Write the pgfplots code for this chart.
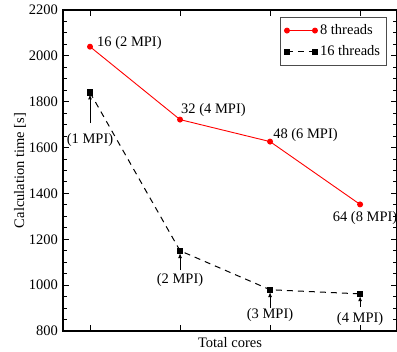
\documentclass[border=0pt]{standalone}
\usepackage{pgfplots}
\pgfplotsset{compat=1.18}
\usepackage{fontspec}
\setmainfont{Liberation Serif}
\usetikzlibrary{arrows.meta}
\begin{document}
\fontsize{14.5bp}{17bp}\selectfont
\begin{tikzpicture}
\begin{axis}[
  scale only axis,
  width=334bp, height=321bp,
  xmin=0.7, xmax=4.41,
  ymin=800, ymax=2200,
  xtick={1,2,3,4}, xticklabels={},
  ytick={800,1000,...,2200},
  minor y tick num=3,
  tick align=inside,
  major tick length=6bp, minor tick length=4bp,
  every tick/.style={black, line width=1bp},
  axis line style={line width=1.3bp},
  /pgf/number format/assume math mode=true,
  /pgf/number format/1000 sep={},
  ylabel={Calculation time [s]},
  xlabel={Total cores},
  xlabel style={at={(axis description cs:0.5,0)}, anchor=north, yshift=-1bp},
  ylabel style={yshift=-7bp},
  clip=false,
  legend cell align=left,
  legend style={at={(rel axis cs:0.97,0.978)}, anchor=north east, draw=black!70, line width=0.8bp, inner xsep=4bp, inner ysep=5bp, row sep=5bp, font=\fontsize{14.5bp}{17bp}\selectfont, nodes={inner xsep=2.5bp}},
  legend image code/.code={\draw[#1, mark repeat=1] plot coordinates {(0bp,0bp) (28bp,0bp)};},
]
\coordinate (sw) at (rel axis cs:0,0);
\coordinate (ne) at (rel axis cs:1,1);
\addplot[red, line width=0.9bp, mark=*, mark size=2.5bp, mark options={solid}] coordinates {(1,2040) (2,1722) (3,1626) (4,1352)};
\addlegendentry{8 threads}
\addplot[black, line width=1bp, dash pattern=on 6bp off 5bp, mark=square*, mark size=2.6bp, mark options={solid}] coordinates {(1,1840) (2,1150) (3,980) (4,962)};
\addlegendentry{16 threads}

\node[anchor=west, inner sep=0pt, xshift=7bp, yshift=4bp] at (axis cs:1,2040) {16 (2 MPI)};
\node[anchor=west, inner sep=0pt, xshift=1bp, yshift=10bp] at (axis cs:2,1722) {32 (4 MPI)};
\node[anchor=west, inner sep=0pt, xshift=3bp, yshift=7bp] at (axis cs:3,1626) {48 (6 MPI)};
\node[anchor=center, inner sep=0pt, xshift=5bp, yshift=-14bp] at (axis cs:4,1352) {64 (8 MPI)};

\draw[black, line width=1bp, -{Latex[length=5bp,width=4bp]}] (axis cs:1,1707) -- (axis cs:1,1832);
\node[inner sep=0pt] at (axis cs:1,1633) {(1 MPI)};
\draw[black, line width=1bp, -{Latex[length=5bp,width=4bp]}] (axis cs:2,1066) -- (axis cs:2,1140);
\node[inner sep=0pt] at (axis cs:2,1023) {(2 MPI)};
\draw[black, line width=1bp, -{Latex[length=5bp,width=4bp]}] (axis cs:3,900) -- (axis cs:3,970);
\node[inner sep=0pt] at (axis cs:3,870) {(3 MPI)};
\draw[black, line width=1bp, -{Latex[length=5bp,width=4bp]}] (axis cs:4,905) -- (axis cs:4,952);
\node[inner sep=0pt] at (axis cs:4,852) {(4 MPI)};
\end{axis}
\pgfresetboundingbox
\path ([shift={(-63bp,-21bp)}]sw) rectangle ([shift={(0bp,10bp)}]ne);
\end{tikzpicture}
\end{document}
